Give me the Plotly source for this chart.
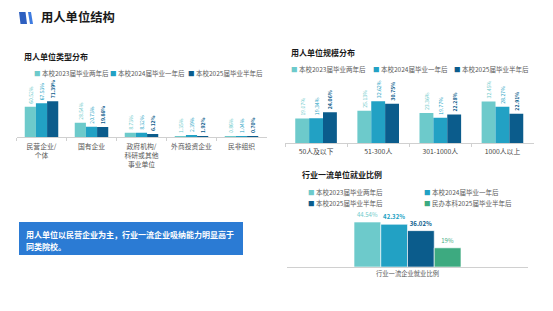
import plotly.graph_objects as go

# ---------------- data ----------------
series_names = ["本校2023届毕业两年后", "本校2024届毕业一年后", "本校2025届毕业半年后"]
peer_name = "民办本科2025届毕业半年后"

type_cats = ["民营企业/<br>个体", "国有企业", "政府机构/<br>科研或其他<br>事业单位", "外商投资企业", "民非组织"]
type_2023 = [60.52, 28.54, 8.73, 1.35, 0.86]
type_2024 = [67.53, 20.73, 8.32, 2.39, 1.04]
type_2025 = [71.39, 19.86, 6.12, 1.92, 0.70]

scale_cats = ["50人及以下", "51-300人", "301-1000人", "1000人以上"]
scale_2023 = [19.07, 25.13, 23.36, 32.45]
scale_2024 = [19.34, 32.62, 19.77, 28.27]
scale_2025 = [24.06, 30.75, 22.28, 22.91]

top_cat = ["行业一流企业就业比例"]
top_2023 = [44.54]
top_2024 = [42.32]
top_2025 = [36.02]
top_peer = [19]

# ---------------- style ----------------
W, H = 553, 311
C23, C24, C25, CP = "#6DCACB", "#22A1C4", "#0B5C8C", "#3DAA80"
FONT = "Noto Sans CJK SC"
GRAY = "#595959"


def px(x):
    return x / W


def py(y):
    return 1 - y / H


def pct2(vals):
    return [f"{v:.2f}%" for v in vals]


def pctg(vals):
    return [f"{v:g}%" for v in vals]


fig = go.Figure()

groups = [
    ("x", "y", type_cats, [type_2023, type_2024, type_2025], 5),
    ("x2", "y2", scale_cats, [scale_2023, scale_2024, scale_2025], 5.2),
]
colors = [C23, C24, C25]
for xa, ya, cats, vals_list, fs in groups:
    for i, vals in enumerate(vals_list):
        fig.add_trace(go.Bar(
            x=cats, y=vals, xaxis=xa, yaxis=ya, name=series_names[i],
            marker=dict(color=colors[i], line=dict(width=0)),
            text=pct2(vals), textposition="outside", textangle=-90,
            textfont=dict(family=FONT, size=fs, color=colors[i],
                          weight="bold" if i == 2 else "normal"),
            cliponaxis=False, showlegend=False, constraintext="none",
        ))

bottom = [(top_2023, C23, series_names[0], pct2(top_2023)),
          (top_2024, C24, series_names[1], pct2(top_2024)),
          (top_2025, C25, series_names[2], pct2(top_2025)),
          (top_peer, CP, peer_name, pctg(top_peer))]
for i, (vals, c, nm, lab) in enumerate(bottom):
    fig.add_trace(go.Bar(
        x=top_cat, y=vals, xaxis="x3", yaxis="y3", name=nm,
        marker=dict(color=c, line=dict(width=0.6, color="white")),
        text=lab, textposition="outside", textangle=0,
        textfont=dict(family=FONT, size=6, color=c,
                      weight="bold" if i in (1, 2) else "normal"),
        cliponaxis=False, showlegend=False, constraintext="none",
    ))

xcommon = dict(showline=True, linecolor="#d0d0d0", linewidth=1, showgrid=False,
               zeroline=False, fixedrange=True)
ycommon = dict(visible=False, showgrid=False, zeroline=False, fixedrange=True)

fig.update_layout(
    width=W, height=H,
    margin=dict(l=0, r=0, t=0, b=0),
    paper_bgcolor="white", plot_bgcolor="rgba(0,0,0,0)",
    barmode="group", bargap=0.33, bargroupgap=0,
    font=dict(family=FONT, color=GRAY),
    xaxis=dict(domain=[px(16.5), px(266.5)], anchor="y", ticks="outside",
               tickson="boundaries", ticklen=3, tickcolor="#d0d0d0",
               ticklabelstandoff=3,
               tickfont=dict(size=6.8, color="#555555"), **xcommon),
    yaxis=dict(domain=[py(137), py(77)], range=[0, 120], anchor="x", **ycommon),
    xaxis2=dict(domain=[px(285), px(533.5)], anchor="y2", ticks="outside",
                tickson="boundaries", ticklen=3, tickcolor="#d0d0d0",
                ticklabelstandoff=2,
                tickfont=dict(size=6.8, color="#444444"), **xcommon),
    yaxis2=dict(domain=[py(143), py(80)], range=[0, 49.2], anchor="x2", **ycommon),
    xaxis3=dict(domain=[px(287), px(528)], anchor="y3", range=[-0.755, 0.755],
                ticks="", tickfont=dict(size=6.3, color="#555555"), **xcommon),
    yaxis3=dict(domain=[py(267), py(215)], range=[0, 51.5], anchor="x3", **ycommon),
)

annotations = []


def add_text(x, y, text, size, color="#222222", weight="normal", xanchor="left"):
    annotations.append(dict(
        x=px(x), y=py(y), xref="paper", yref="paper", text=text, showarrow=False,
        xanchor=xanchor, yanchor="middle",
        font=dict(family=FONT, size=size, color=color, weight=weight),
    ))


add_text(39, 17, "用人单位结构", 12.3, "#1a1a1a", "bold")
add_text(22, 57, "用人单位类型分布", 8, "#1a1a1a", "bold")
add_text(289, 53, "用人单位规模分布", 8, "#1a1a1a", "bold")
add_text(300, 174, "行业一流单位就业比例", 8, "#1a1a1a", "bold")


def legend_item(x, y, color, name):
    add_text(x, y, f'<span style="color:{color}">■</span> {name}', 6.5, GRAY)


for x, c, nm in zip([32, 108, 186], colors, series_names):
    legend_item(x, 72.5, c, nm)
for x, c, nm in zip([289, 371, 452], colors, series_names):
    legend_item(x, 69, c, nm)
legend_item(306, 192, C23, series_names[0])
legend_item(422, 192, C24, series_names[1])
legend_item(306, 203, C25, series_names[2])
legend_item(422, 203, CP, peer_name)

add_text(24, 234, "用人单位以民营企业为主，行业一流企业吸纳能力明显高于", 8, "white", "bold")
add_text(24, 247, "同类院校。", 8, "white", "bold")

fig.update_layout(annotations=annotations)

shapes = [
    dict(type="rect", xref="paper", yref="paper", x0=px(19), x1=px(243),
         y0=py(255), y1=py(222), fillcolor="#2B7BD4", line=dict(width=0), layer="below"),
    dict(type="path", xref="paper", yref="paper",
         path=f"M {px(19)} {py(12)} L {px(25.5)} {py(12)} L {px(27)} {py(24)} L {px(20.5)} {py(24)} Z",
         fillcolor="#2D5FC0", line=dict(width=0)),
    dict(type="path", xref="paper", yref="paper",
         path=f"M {px(28)} {py(12)} L {px(31)} {py(12)} L {px(33)} {py(24)} L {px(30)} {py(24)} Z",
         fillcolor="#3E7BE0", line=dict(width=0)),
]
fig.update_layout(shapes=shapes)

fig.write_html("out.html")
